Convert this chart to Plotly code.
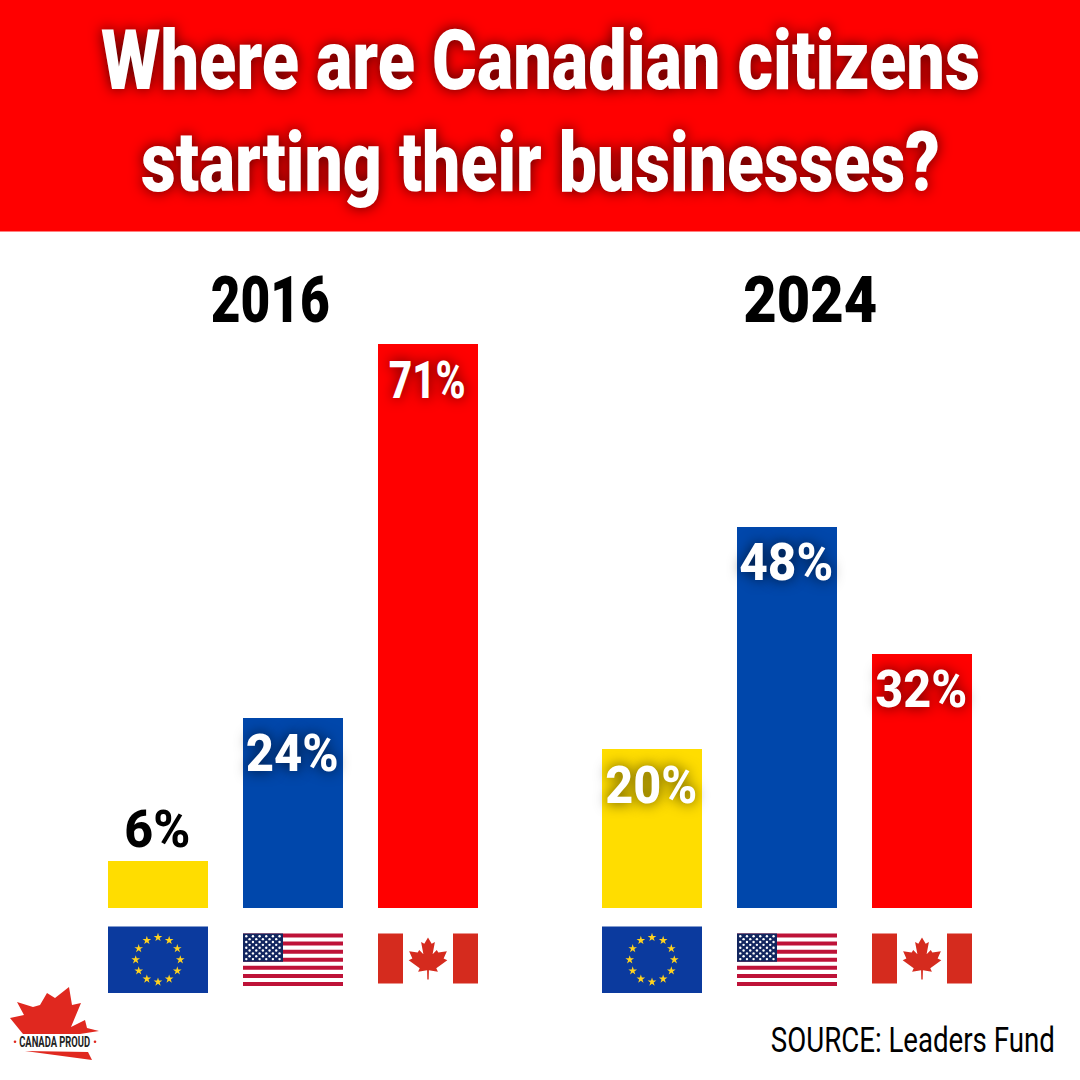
import math
import plotly.graph_objects as go

# ---- data ----
title_lines = ["Where are Canadian citizens", "starting their businesses?"]
regions = ["EU", "USA", "Canada"]
values_2016 = [6, 24, 71]
values_2024 = [20, 48, 32]
group_labels = ["2016", "2024"]
source_text = "SOURCE: Leaders Fund"
logo_text = "CANADA PROUD"

# ---- styles ----
YELLOW, BLUE, RED = "#FFDD00", "#0047AB", "#FF0000"
bar_colors = [YELLOW, BLUE, RED]
FONT = "Roboto, sans-serif"
SHADOW = "0px 0px 14px rgba(0,0,0,0.7)"
S = 1080.0


def px_domain_x(a, b):
    return [a / S, b / S]


def px_domain_y(top, bottom):
    return [1 - bottom / S, 1 - top / S]


fig = go.Figure()

for i, vals in enumerate([values_2016, values_2024]):
    suffix = "" if i == 0 else "2"
    fig.add_trace(go.Bar(x=regions, y=vals, marker=dict(color=bar_colors, line_width=0),
                         width=100 / 135, xaxis="x" + suffix, yaxis="y" + suffix,
                         showlegend=False, hoverinfo="x+y"))

axis_off = dict(visible=False, fixedrange=True)
base = 908
top = base - 80 * 7.94
fig.update_layout(
    width=1080, height=1080, margin=dict(l=0, r=0, t=0, b=0),
    paper_bgcolor="white", plot_bgcolor="rgba(0,0,0,0)", showlegend=False,
    bargap=0,
    xaxis=dict(domain=px_domain_x(89.6, 494.6), type="category", range=[-0.5, 2.5], **axis_off),
    yaxis=dict(domain=px_domain_y(top, base), range=[0, 80], **axis_off),
    xaxis2=dict(domain=px_domain_x(583.6, 988.6), type="category", range=[-0.5, 2.5], anchor="y2", **axis_off),
    yaxis2=dict(domain=px_domain_y(top, base), range=[0, 80], anchor="x2", **axis_off),
    # page-sized overlay for the decorative flags and logo
    xaxis3=dict(domain=[0, 1], range=[0, 1080], anchor="y3", **axis_off),
    yaxis3=dict(domain=[0, 1], range=[1080, 0], anchor="x3", **axis_off),
)

shapes = []


def rect(x0, y0, x1, y1, color, layer="below"):
    shapes.append(dict(type="rect", xref="x3", yref="y3", x0=x0, y0=y0, x1=x1, y1=y1,
                       fillcolor=color, line_width=0, layer=layer))


def poly(points, color):
    d = "M " + " L ".join(f"{x:.2f},{y:.2f}" for x, y in points) + " Z"
    shapes.append(dict(type="path", xref="x3", yref="y3", path=d, fillcolor=color, line_width=0, layer="above"))


rect(0, 0, 1080, 231.5, RED)

half_leaf = [(0, -1.0), (-.16, -.70), (-.30, -.78), (-.20, -.20), (-.38, -.40), (-.45, -.28), (-.82, -.35),
             (-.68, 0.0), (-.84, .08), (-.36, .46), (-.43, .63), (-.04, .56), (-.03, 1.0)]
leaf = half_leaf + [(-x, y) for x, y in reversed(half_leaf)]

star_x, star_y, dot_x, dot_y = [], [], [], []
for cx in (158, 652):
    rect(cx - 50, 926.5, cx + 50, 993, "#0B3A9E")
    for k in range(12):
        ang = math.radians(30 * k)
        star_x.append(cx + 22.3 * math.sin(ang))
        star_y.append(959.7 - 22.3 * math.cos(ang))

for cx in (293, 787):
    x0, x1 = cx - 50, cx + 50
    y0, y1 = 933.5, 986
    h = (y1 - y0) / 13
    for s in range(13):
        if s % 2 == 0:
            rect(x0, y0 + s * h, x1, y0 + (s + 1) * h, "#BE1238")
    rect(x0, y0, x0 + 40, y0 + 7 * h, "#12265F")
    for r in range(9):
        n = 6 if r % 2 == 0 else 5
        off = 3.3 if r % 2 == 0 else 6.6
        for c in range(n):
            dot_x.append(x0 + off + c * 6.65)
            dot_y.append(y0 + 2.8 + r * 2.85)

for cx in (428, 922):
    rect(cx - 50, 933.5, cx - 25, 983.5, "#D52B1E")
    rect(cx + 25, 933.5, cx + 50, 983.5, "#D52B1E")
    poly([(cx + 23 * x, 958.5 + 21 * y) for x, y in leaf], "#D52B1E")

fig.add_trace(go.Scatter(x=star_x, y=star_y, mode="markers", xaxis="x3", yaxis="y3", hoverinfo="skip",
                         marker=dict(symbol="star", size=6.5, color="#FFD21F", line_width=0)))
fig.add_trace(go.Scatter(x=dot_x, y=dot_y, mode="markers", xaxis="x3", yaxis="y3", hoverinfo="skip",
                         marker=dict(symbol="circle", size=2.4, color="white", line_width=0)))

# logo (outline, in page pixels)
logo = [(10, 1018), (24, 1015), (17, 1002), (33, 1007), (40, 1005), (47, 993), (55, 998), (69, 987),
        (72, 1005), (81, 1003), (71, 1027), (85, 1020), (87, 1028), (99, 1031), (80, 1034), (23, 1034)]
poly(logo, "#E0281F")
poly([(25, 1051), (88, 1052), (92, 1060)], "#E0281F")
for dx in (15, 95):
    shapes.append(dict(type="circle", xref="x3", yref="y3", x0=dx - 1.3, x1=dx + 1.3, y0=1040.5, y1=1043.1,
                       fillcolor="#E0281F", line_width=0, layer="above"))

fig.update_layout(shapes=shapes)

ann = []
for i, line in enumerate(title_lines):
    ann.append(dict(xref="paper", yref="paper", x=540 / S, y=1 - (60 + i * 103) / S, text=line, showarrow=False,
                    xanchor="center", yanchor="middle",
                    font=dict(family=FONT, size=84, color="white", weight=900, shadow=SHADOW)))

for i, (lab, px) in enumerate(zip(group_labels, (270, 810))):
    ann.append(dict(xref="paper", yref="paper", x=px / S, y=1 - 300 / S, text=lab, showarrow=False,
                    xanchor="center", yanchor="middle",
                    font=dict(family=FONT, size=65, color="black", weight=900)))

for vals, xa, ya in ((values_2016, "x", "y"), (values_2024, "x2", "y2")):
    for reg, v in zip(regions, vals):
        small = v < 10
        ann.append(dict(xref=xa, yref=ya, x=reg, y=v, text=f"{v}%", showarrow=False,
                        xanchor="center", yanchor="middle", yshift=31 if small else -36,
                        font=dict(family=FONT, size=52, weight=800, color="black" if small else "white",
                                  shadow=("0px 0px 8px rgba(255,255,255,0.8)" if small else SHADOW))))

ann.append(dict(xref="paper", yref="paper", x=913 / S, y=1 - 1040 / S, text=source_text, showarrow=False,
                xanchor="center", yanchor="middle", font=dict(family=FONT, size=35, color="black")))
ann.append(dict(xref="paper", yref="paper", x=55 / S, y=1 - 1042 / S, text=logo_text, showarrow=False,
                xanchor="center", yanchor="middle", font=dict(family=FONT, size=15, color="#222222", weight=700)))
fig.update_layout(annotations=ann)

# The reference face is condensed: squeeze each text horizontally to its measured width.
post = """
document.documentElement.style.margin='0';document.body.style.margin='0';
var widths={'Where are Canadian citizens':879,'starting their businesses?':799,'2016':119,'2024':134,
 '6%':66,'24%':93,'71%':77,'20%':92,'48%':94,'32%':92,'SOURCE: Leaders Fund':284,'CANADA PROUD':71};
function fit(){document.querySelectorAll('.annotation-text').forEach(function(t){
 var w=widths[t.textContent];if(!w)return;
 var k=w/t.getComputedTextLength(),cx=parseFloat(t.getAttribute('x'))||0;
 t.setAttribute('transform','translate('+cx+',0) scale('+k+',1) translate('+(-cx)+',0)');});}
fit();setTimeout(fit,50);setTimeout(fit,400);
"""
fig.write_html("out.html", config=dict(displayModeBar=False), post_script=post)
